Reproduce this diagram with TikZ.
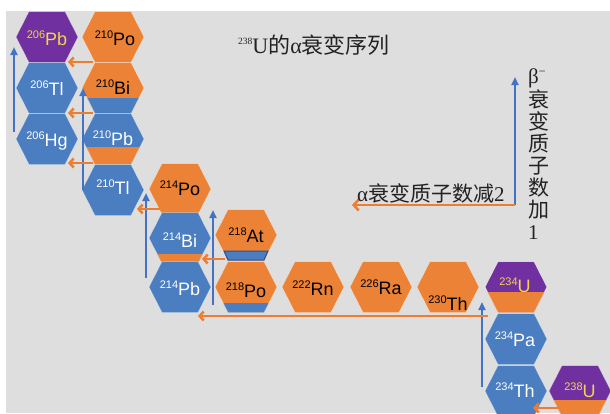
\documentclass[tikz,border=0pt]{standalone}
\usepackage{fontspec}
\setmainfont{Liberation Serif}
\newfontfamily\cjk{Noto Sans CJK SC}
\newfontfamily\labfont{Liberation Sans}
\usetikzlibrary{arrows.meta,calc}
\definecolor{bg}{HTML}{DEDEDE}
\definecolor{hexor}{HTML}{EB8236}
\definecolor{hexbl}{HTML}{4A7EC0}
\definecolor{hexpu}{HTML}{7030A0}
\definecolor{arrbl}{HTML}{4472C4}
\definecolor{arror}{HTML}{ED7D31}
\definecolor{labyel}{HTML}{F2D44C}
\definecolor{bandedge}{HTML}{2F4F8F}
\definecolor{txt}{HTML}{222222}

\newcommand\hexpath[2]{(#1-31,#2) -- (#1-18,#2-25.5) -- (#1+18,#2-25.5) -- (#1+31,#2) -- (#1+18,#2+25.5) -- (#1-18,#2+25.5) -- cycle}
\newcommand\hexcell[6]{%
  \coordinate (#1) at (#2,#3);
  \fill[#4] \hexpath{#2}{#3};
  \begin{scope}
    \clip \hexpath{#2}{#3};
    \fill[#5] (#2-35,#3+25.5-#6) rectangle (#2+35,#3+30);
  \end{scope}
  \draw[hexedge] \hexpath{#2}{#3};
}
\newcommand\iso[2]{\labfont\fontsize{18}{18}\selectfont\raisebox{7pt}{\fontsize{11}{11}\selectfont #1}#2}

\tikzset{
  hexedge/.style={draw=white, line width=0.5pt, draw opacity=0.5},
  lbl/.style={inner sep=0pt},
  betaarrow/.style={draw=arrbl, line width=2pt, -{Triangle[length=8pt,width=7pt]}},
  alphaarrow/.style={draw=arror, line width=2.5pt, -{Straight Barb[length=4pt,width=9pt]}},
}

\begin{document}
\begin{tikzpicture}[x=1pt,y=-1pt]
\useasboundingbox (0,0) rectangle (610,413);
\fill[white] (0,0) rectangle (610,413);
\fill[bg] (6,11) rectangle (610,413);

% hexagons
\hexcell{Pb206}{47}{37}{hexpu}{hexpu}{0}
\hexcell{Tl206}{47}{88}{hexbl}{hexbl}{0}
\hexcell{Hg206}{47}{139}{hexbl}{hexbl}{0}
\hexcell{Po210}{113}{37}{hexor}{hexor}{0}
\hexcell{Bi210}{113}{88}{hexor}{hexbl}{16}
\hexcell{Pb210}{113}{139}{hexbl}{hexor}{18}
\hexcell{Tl210}{113}{190}{hexbl}{hexbl}{0}
\hexcell{Po214}{180}{189}{hexor}{hexor}{0}
\hexcell{Bi214}{180}{238}{hexbl}{hexor}{10}
\hexcell{Pb214}{180}{287}{hexbl}{hexbl}{0}
\hexcell{At218}{246}{235}{hexor}{hexor}{0}
\fill[hexbl, draw=bandedge, line width=1pt] (224,251) -- (268,251) -- (264,260) -- (228,260) -- cycle;
\hexcell{Po218}{246}{287}{hexor}{hexbl}{10}
\hexcell{Rn222}{313}{287}{hexor}{hexor}{0}
\hexcell{Ra226}{381}{287}{hexor}{hexor}{0}
\hexcell{Th230}{448}{287}{hexor}{hexor}{0}
\hexcell{U234}{516}{287}{hexpu}{hexpu}{0}
\hexcell{Pa234}{516}{339}{hexbl}{hexbl}{0}
\hexcell{Th234}{516}{391}{hexbl}{hexbl}{0}
\hexcell{U238}{580}{391}{hexpu}{hexor}{17}

% labels
\node[lbl,text=labyel] (tPb206) at (47,38) {\iso{206}{Pb}};
\node[lbl,text=white] (tTl206) at (47,88) {\iso{206}{Tl}};
\node[lbl,text=white] (tHg206) at (47,141) {\iso{206}{Hg}};
\node[lbl,text=black] (tPo210) at (115,38) {\iso{210}{Po}};
\node[lbl,text=black] (tBi210) at (113,87) {\iso{210}{Bi}};
\node[lbl,text=white] (tPb210) at (113,138) {\iso{210}{Pb}};
\node[lbl,text=white] (tTl210) at (113,187) {\iso{210}{Tl}};
\node[lbl,text=black] (tPo214) at (180,188) {\iso{214}{Po}};
\node[lbl,text=white] (tBi214) at (180,240) {\iso{214}{Bi}};
\node[lbl,text=white] (tPb214) at (180,288) {\iso{214}{Pb}};
\node[lbl,text=black] (tAt218) at (246,235) {\iso{218}{At}};
\node[lbl,text=black] (tPo218) at (246,290) {\iso{218}{Po}};
\node[lbl,text=black] (tRn222) at (313,288) {\iso{222}{Rn}};
\node[lbl,text=black] (tRa226) at (381,287) {\iso{226}{Ra}};
\node[lbl,text=black] (tTh230) at (448,303) {\iso{230}{Th}};
\node[lbl,text=labyel] (tU234) at (515,285) {\iso{234}{U}};
\node[lbl,text=white] (tPa234) at (515,339) {\iso{234}{Pa}};
\node[lbl,text=white] (tTh234) at (515,390) {\iso{234}{Th}};
\node[lbl,text=labyel] (tU238) at (580,390) {\iso{238}{U}};

% lower band of 234U drawn over its label
\begin{scope}
  \clip \hexpath{516}{287};
  \fill[hexor] (480,292) rectangle (552,320);
\end{scope}
\draw[hexedge] \hexpath{516}{287};

% beta decay arrows
\draw[betaarrow] ($(Hg206)+(-33,-7)$) -- ($(Pb206)+(-33,10)$);
\draw[betaarrow] ($(Tl210)+(-30,0)$) -- ($(Bi210)+(-30,0)$);
\draw[betaarrow] ($(Pb214)+(-34,-9)$) -- ($(Po214)+(-34,4)$);
\draw[betaarrow] ($(Po218)+(-33,18)$) -- ($(At218)+(-33,-25)$);
\draw[betaarrow] ($(Th234)+(-34,-4)$) -- ($(U234)+(-34,15)$);

% alpha decay arrows
\draw[alphaarrow] ($(Po210)+(-20,25)$) -- ($(Pb206)+(21,25)$);
\draw[alphaarrow] ($(Bi210)+(-20,25)$) -- ($(Tl206)+(21,25)$);
\draw[alphaarrow] ($(Pb210)+(-20,24)$) -- ($(Hg206)+(21,24)$);
\draw[alphaarrow] ($(Po214)+(-20,20)$) -- ($(Tl210)+(24,19)$);
\draw[alphaarrow] ($(At218)+(-21,24)$) -- ($(Bi214)+(22,21)$);
\draw[alphaarrow] ($(U234)+(-28,29)$) -- ($(Pb214)+(18,29)$);
\draw[alphaarrow] ($(U238)+(-20,17)$) -- ($(Th234)+(17,17)$);

% legend
\coordinate (legcorner) at (515,205);
\coordinate (legtop) at (515,77);
\coordinate (legleft) at (352,205);
\draw[betaarrow] (legcorner) -- (legtop);
\draw[alphaarrow, -{Straight Barb[length=5pt,width=11pt]}] (legcorner) -- (legleft);

\node[anchor=base west, inner sep=0pt, text=txt, font=\fontsize{21}{21}\selectfont] (alphatext) at (357,201)
  {α{\cjk 衰变质子数减}2};
\node[anchor=north west, inner sep=0pt, align=left, text=txt, font=\fontsize{21}{22}\selectfont] (betatext) at (528,69)
  {β\raisebox{8pt}{\fontsize{12}{12}\selectfont −}\\{\cjk 衰}\\{\cjk 变}\\{\cjk 质}\\{\cjk 子}\\{\cjk 数}\\{\cjk 加}\\1};

% title
\node[anchor=base west, inner sep=0pt, text=txt, font=\fontsize{22}{22}\selectfont] (title) at (238,53)
  {\raisebox{9pt}{\fontsize{9.5}{9.5}\selectfont 238}U{\cjk 的}α{\cjk 衰变序列}};
\end{tikzpicture}
\end{document}
